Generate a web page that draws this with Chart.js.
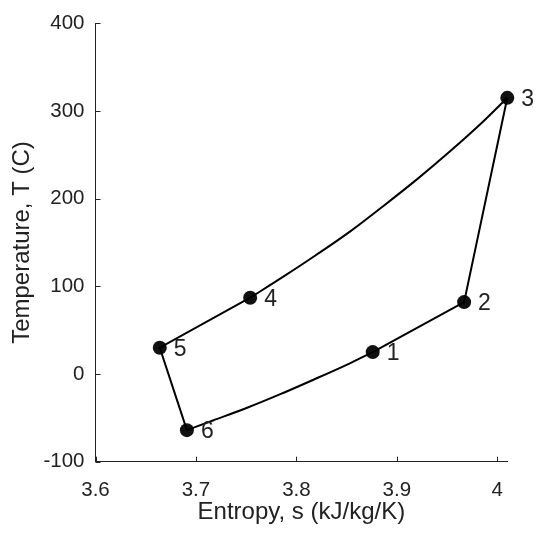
<!DOCTYPE html>
<html>
<head>
<meta charset="utf-8">
<title>T-s diagram</title>
<script src="https://cdn.jsdelivr.net/npm/chart.js@4/dist/chart.umd.min.js"></script>
<style>
  html, body { margin: 0; padding: 0; background: #fff; }
</style>
</head>
<body>
<canvas id="tsChart" width="536" height="534"></canvas>
<script>
// cycle states (entropy kJ/kg/K, temperature C)
const stateLabels = ['1', '2', '3', '4', '5', '6'];
const stateS = [3.876, 3.967, 4.010, 3.754, 3.664, 3.691];
const stateT = [25, 82, 315, 87, 30, -64];

// points along the curved legs, listed with entropy increasing (4 -> 3 and 6 -> 1)
const curve43S = [3.787, 3.820, 3.854, 3.887, 3.920, 3.953, 3.986];
const curve43T = [111, 136, 163, 192, 222, 254, 288];
const curve61S = [3.717, 3.751, 3.784, 3.817, 3.850];
const curve61T = [-53, -38.5, -23, -6.5, 10.5];

const xTicks = [3.6, 3.7, 3.8, 3.9, 4.0];
const yTicks = [-100, 0, 100, 200, 300, 400];

const axisColor = '#222';
const fontFamily = '"Liberation Sans", Arial, Helvetica, sans-serif';

function pt(i) {
    return { x: stateS[i], y: stateT[i] };
}

function leg(from, sArr, tArr, to) {
    const pts = [pt(from)];
    sArr.forEach((s, k) => pts.push({ x: s, y: tArr[k] }));
    pts.push(pt(to));
    return pts;
}

function lineSet(data, smooth) {
    const ds = {
        data: data,
        showLine: true,
        borderColor: '#000',
        borderWidth: 2,
        pointRadius: 0,
        clip: false
    };
    if (smooth) ds.cubicInterpolationMode = 'monotone';
    return ds;
}

const datasets = [
    lineSet([pt(0), pt(1), pt(2)], false),
    lineSet(leg(3, curve43S, curve43T, 2), true),
    lineSet([pt(3), pt(4), pt(5)], false),
    lineSet(leg(5, curve61S, curve61T, 0), true),
    {
        data: stateS.map((s, i) => ({ x: s, y: stateT[i] })),
        showLine: false,
        pointRadius: 7,
        pointBackgroundColor: '#111',
        pointBorderColor: '#111',
        pointBorderWidth: 0,
        clip: false
    }
];

// inward tick marks and state numbers
const cycleDecor = {
    id: 'cycleDecor',
    afterDatasetsDraw(chart) {
        const ctx = chart.ctx;
        const xs = chart.scales.x;
        const ys = chart.scales.y;
        const area = chart.chartArea;
        ctx.save();
        ctx.strokeStyle = axisColor;
        ctx.lineWidth = 1;
        ctx.beginPath();
        xTicks.forEach(v => {
            const px = Math.round(xs.getPixelForValue(v)) + 0.5;
            ctx.moveTo(px, area.bottom);
            ctx.lineTo(px, area.bottom - 5);
        });
        yTicks.forEach(v => {
            const py = Math.round(ys.getPixelForValue(v)) + 0.5;
            ctx.moveTo(area.left, py);
            ctx.lineTo(area.left + 5, py);
        });
        ctx.stroke();

        ctx.fillStyle = axisColor;
        ctx.font = '23px ' + fontFamily;
        ctx.textAlign = 'left';
        ctx.textBaseline = 'middle';
        stateLabels.forEach((lab, i) => {
            ctx.fillText(lab, xs.getPixelForValue(stateS[i]) + 14, ys.getPixelForValue(stateT[i]) + 1.5);
        });
        ctx.restore();
    }
};

const ctx = document.getElementById('tsChart').getContext('2d');
const tsChart = new Chart(ctx, {
    type: 'scatter',
    data: { datasets: datasets },
    plugins: [cycleDecor],
    options: {
        responsive: false,
        animation: false,
        events: [],
        layout: { padding: { top: 17, right: 28.7, left: 0, bottom: 0 } },
        plugins: {
            legend: { display: false },
            tooltip: { enabled: false }
        },
        scales: {
            x: {
                type: 'linear',
                min: 3.6,
                max: 4.010,
                afterFit(scale) { scale.height = 72.3; },
                afterBuildTicks(scale) { scale.ticks = xTicks.map(v => ({ value: v })); },
                grid: { drawOnChartArea: false, drawTicks: false },
                border: { color: axisColor, width: 1 },
                ticks: {
                    color: axisColor,
                    font: { family: fontFamily, size: 20.5 },
                    padding: 16,
                    maxRotation: 0,
                    callback: v => String(Math.round(v * 10) / 10)
                },
                title: {
                    display: true,
                    text: 'Entropy, s (kJ/kg/K)',
                    color: axisColor,
                    font: { family: fontFamily, size: 24 },
                    padding: { top: 0, bottom: 7 }
                }
            },
            y: {
                type: 'linear',
                min: -100,
                max: 400,
                afterFit(scale) { scale.width = 95.5; },
                afterBuildTicks(scale) { scale.ticks = yTicks.map(v => ({ value: v })); },
                grid: { drawOnChartArea: false, drawTicks: false },
                border: { color: axisColor, width: 1 },
                ticks: {
                    color: axisColor,
                    font: { family: fontFamily, size: 20.5 },
                    padding: 11
                },
                title: {
                    display: true,
                    text: 'Temperature, T (C)',
                    color: axisColor,
                    font: { family: fontFamily, size: 24 },
                    padding: { top: 8, bottom: 0 }
                }
            }
        }
    }
});
</script>
</body>
</html>
